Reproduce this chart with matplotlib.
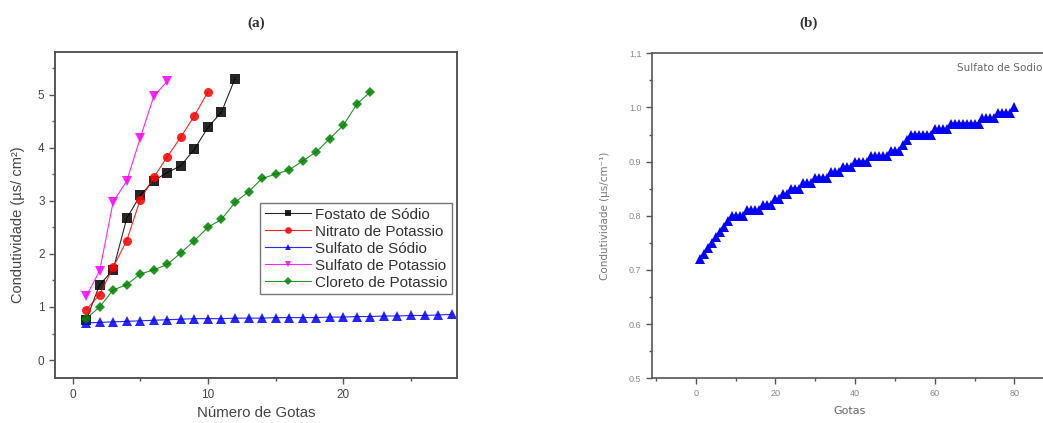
import matplotlib
matplotlib.use("Agg")
import matplotlib.pyplot as plt
import numpy as np
from matplotlib.ticker import MultipleLocator

# panel (a) data
fosfato_sodio = [0.75, 1.42, 1.70, 2.67, 3.10, 3.38, 3.53, 3.66, 3.97, 4.38, 4.67, 5.30]
nitrato_potassio = [0.95, 1.23, 1.75, 2.25, 3.02, 3.44, 3.83, 4.20, 4.60, 5.05]
sulfato_sodio = [0.70, 0.71, 0.72, 0.73, 0.74, 0.75, 0.76, 0.77, 0.78, 0.78,
                 0.78, 0.79, 0.79, 0.79, 0.80, 0.80, 0.80, 0.80, 0.81, 0.81,
                 0.82, 0.82, 0.83, 0.83, 0.84, 0.84, 0.85, 0.86]
sulfato_potassio = [1.20, 1.68, 2.98, 3.37, 4.18, 4.97, 5.25]
cloreto_potassio = [0.78, 1.00, 1.32, 1.42, 1.62, 1.70, 1.80, 2.02, 2.25, 2.50,
                    2.65, 2.97, 3.17, 3.42, 3.50, 3.58, 3.75, 3.92, 4.17, 4.42,
                    4.82, 5.05]

series_a = [
    ("Fostato de Sódio", fosfato_sodio, "black", "s"),
    ("Nitrato de Potassio", nitrato_potassio, "red", "o"),
    ("Sulfato de Sódio", sulfato_sodio, "blue", "^"),
    ("Sulfato de Potassio", sulfato_potassio, "magenta", "v"),
    ("Cloreto de Potassio", cloreto_potassio, "green", "D"),
]

# panel (b) data: Sulfato de Sodio, 80 drops
sulfato_sodio_b = [
    0.72, 0.73, 0.74, 0.75, 0.76, 0.77, 0.78, 0.79, 0.80, 0.80,
    0.80, 0.80, 0.81, 0.81, 0.81, 0.81, 0.82, 0.82, 0.82, 0.83,
    0.83, 0.84, 0.84, 0.85, 0.85, 0.85, 0.86, 0.86, 0.86, 0.87,
    0.87, 0.87, 0.87, 0.88, 0.88, 0.88, 0.89, 0.89, 0.89, 0.90,
    0.90, 0.90, 0.90, 0.91, 0.91, 0.91, 0.91, 0.91, 0.92, 0.92,
    0.92, 0.93, 0.94, 0.95, 0.95, 0.95, 0.95, 0.95, 0.95, 0.96,
    0.96, 0.96, 0.96, 0.97, 0.97, 0.97, 0.97, 0.97, 0.97, 0.97,
    0.97, 0.98, 0.98, 0.98, 0.98, 0.99, 0.99, 0.99, 0.99, 1.00,
]

plt.rcParams["font.family"] = ["Liberation Sans", "DejaVu Sans"]
frame = "#555555"
txt = "#444444"

fig = plt.figure(figsize=(10.43, 4.23), dpi=100)

# ---- panel (a)
ax = fig.add_axes([0.0527, 0.106, 0.3855, 0.771])
for label, vals, color, mk in series_a:
    x = np.arange(1, len(vals) + 1)
    ms = 5.5 if mk == "D" else 6.5
    ax.plot(x, vals, color=color, lw=0.8, alpha=0.85, marker=mk,
            markersize=ms, markeredgewidth=0, label=label)

ax.set_xlim(-1.3, 28.4)
ax.set_ylim(-0.34, 5.8)
ax.xaxis.set_major_locator(MultipleLocator(10))
ax.xaxis.set_minor_locator(MultipleLocator(5))
ax.yaxis.set_major_locator(MultipleLocator(1))
ax.yaxis.set_minor_locator(MultipleLocator(0.5))
ax.tick_params(which="both", direction="out", colors=frame, labelcolor=txt,
               labelsize=8.5, width=1)
ax.tick_params(which="major", length=4)
ax.tick_params(which="minor", length=2.5)
for s in ax.spines.values():
    s.set_color(frame)
    s.set_linewidth(1.4)

ax.set_xlabel("Número de Gotas", fontsize=10.8, color=txt)
ax.xaxis.set_label_coords(0.5, -0.085)
ax.set_ylabel("Condutividade (µs/ cm²)", fontsize=10.5, color=txt)
ax.yaxis.set_label_coords(-0.075, 0.47)

leg = ax.legend(loc="upper right", bbox_to_anchor=(0.988, 0.537),
                borderaxespad=0, fontsize=11, frameon=True, fancybox=False,
                handlelength=3.0, handletextpad=0.3, labelspacing=0.2,
                borderpad=0.3, markerscale=0.75)
leg.get_frame().set_edgecolor(frame)
leg.get_frame().set_linewidth(1.0)
for t in leg.get_texts():
    t.set_color("#333333")

fig.text(0.2455, 0.945, "(a)", ha="center", va="center", fontsize=11,
         fontweight="bold", family="Liberation Serif", color="#333333")

# ---- panel (b)
bx = fig.add_axes([0.625, 0.106, 0.38, 0.768])
xb = np.arange(1, len(sulfato_sodio_b) + 1)
bx.plot(xb, sulfato_sodio_b, color="blue", lw=1.6, marker="^",
        markersize=6.5, markeredgewidth=0)
bx.set_xlim(-11, 88.5)
bx.set_ylim(0.5, 1.1)
bx.xaxis.set_major_locator(MultipleLocator(20))
bx.xaxis.set_minor_locator(MultipleLocator(10))
bx.yaxis.set_major_locator(MultipleLocator(0.1))
bx.yaxis.set_minor_locator(MultipleLocator(0.05))
bx.yaxis.set_major_formatter(plt.FormatStrFormatter("%.1f"))
bx.tick_params(which="both", direction="out", colors=frame, labelcolor="#888888",
               labelsize=6.5, width=1)
bx.tick_params(which="major", length=4)
bx.tick_params(which="minor", length=2)
for s in bx.spines.values():
    s.set_color(frame)
    s.set_linewidth(1.2)

bx.set_xlabel("Gotas", fontsize=8, color="#666666", family="DejaVu Sans")
bx.xaxis.set_label_coords(0.5, -0.085)
bx.set_ylabel("Condutividade (µs/cm⁻¹)", fontsize=7.5, color="#777777",
              family="DejaVu Sans")
bx.yaxis.set_label_coords(-0.105, 0.5)
bx.text(0.985, 0.955, "Sulfato de Sodio", transform=bx.transAxes,
        ha="right", va="center", fontsize=7.5, color="#666666",
        family="DejaVu Sans")

fig.text(0.775, 0.945, "(b)", ha="center", va="center", fontsize=11,
         fontweight="bold", family="Liberation Serif", color="#333333")

fig.savefig("out.png", dpi=100)
